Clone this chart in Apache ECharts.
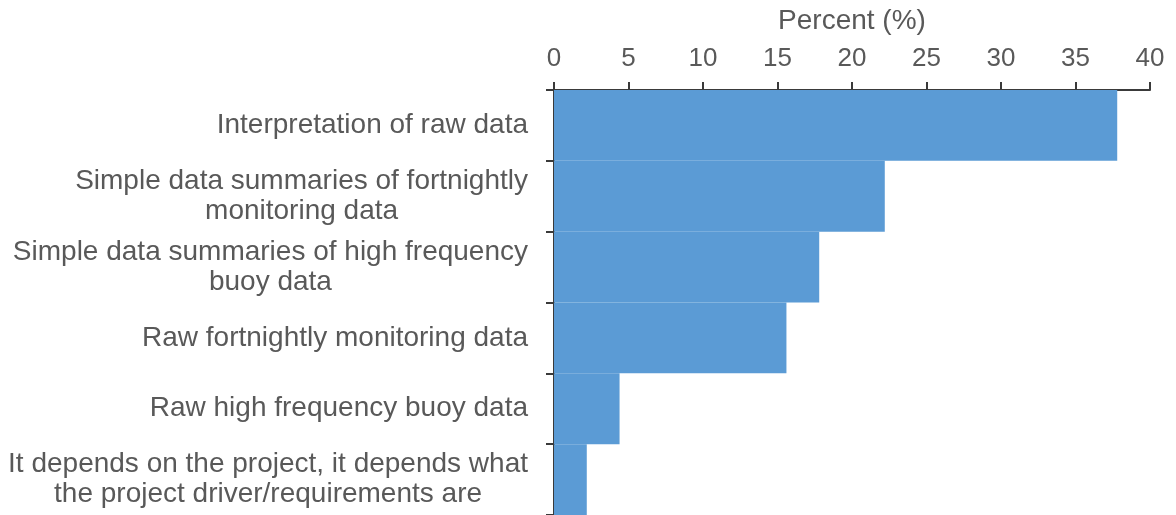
<!DOCTYPE html>
<html>
<head>
<meta charset="utf-8">
<script src="https://cdn.jsdelivr.net/npm/echarts@6/dist/echarts.min.js"></script>
<style>
  html, body { margin: 0; padding: 0; background: #fff; }
  #chart { width: 1176px; height: 515px; }
</style>
</head>
<body>
<div id="chart"></div>
<script>
// categories top to bottom
const categories = [
    'Interpretation of raw data',
    'Simple data summaries of fortnightly\nmonitoring data',
    'Simple data summaries of high frequency\nbuoy data',
    'Raw fortnightly monitoring data',
    'Raw high frequency buoy data',
    'It depends on the project, it depends what\nthe project driver/requirements are'
];
const percents = [37.8, 22.2, 17.8, 15.6, 4.4, 2.2];
const xTicks = [0, 5, 10, 15, 20, 25, 30, 35, 40];

const textColor = '#595959';
const axisColor = '#3a3a3a';
const font = 'Liberation Sans';

let myChart = echarts.init(document.getElementById('chart'));
myChart.setOption({
    animation: false,
    grid: {
        left: 554,
        right: 26,
        top: 90,
        bottom: 0,
        containLabel: false,
        outerBoundsMode: 'none'
    },
    xAxis: {
        type: 'value',
        position: 'top',
        min: xTicks[0],
        max: xTicks[xTicks.length - 1],
        interval: 5,
        name: 'Percent (%)',
        nameLocation: 'middle',
        nameGap: 55,
        nameMoveOverlap: false,
        nameTextStyle: { color: textColor, fontSize: 28, fontFamily: font },
        axisLine: { show: true, lineStyle: { color: axisColor, width: 2 } },
        axisTick: { show: true, inside: false, length: 8, lineStyle: { color: axisColor, width: 2 } },
        axisLabel: { color: textColor, fontSize: 26, margin: 18, fontFamily: font },
        splitLine: { show: false }
    },
    yAxis: {
        type: 'category',
        inverse: true,
        data: categories,
        axisLine: { show: true, lineStyle: { color: axisColor, width: 2 } },
        axisTick: { show: true, length: 8, lineStyle: { color: axisColor, width: 2 } },
        axisLabel: {
            color: textColor,
            fontSize: 28,
            lineHeight: 30,
            margin: 26,
            align: 'right',
            fontFamily: font,
            // wrapped lines are centred under each other, block stays right-aligned
            formatter: function (value) {
                return value.split('\n').map(function (s) { return '{c|' + s + '}'; }).join('\n');
            },
            rich: {
                c: { align: 'center', color: textColor, fontSize: 28, lineHeight: 30, fontFamily: font }
            }
        }
    },
    series: [{
        type: 'bar',
        data: percents,
        barCategoryGap: 0,
        itemStyle: { color: '#5B9BD5' }
    }]
});
</script>
</body>
</html>
